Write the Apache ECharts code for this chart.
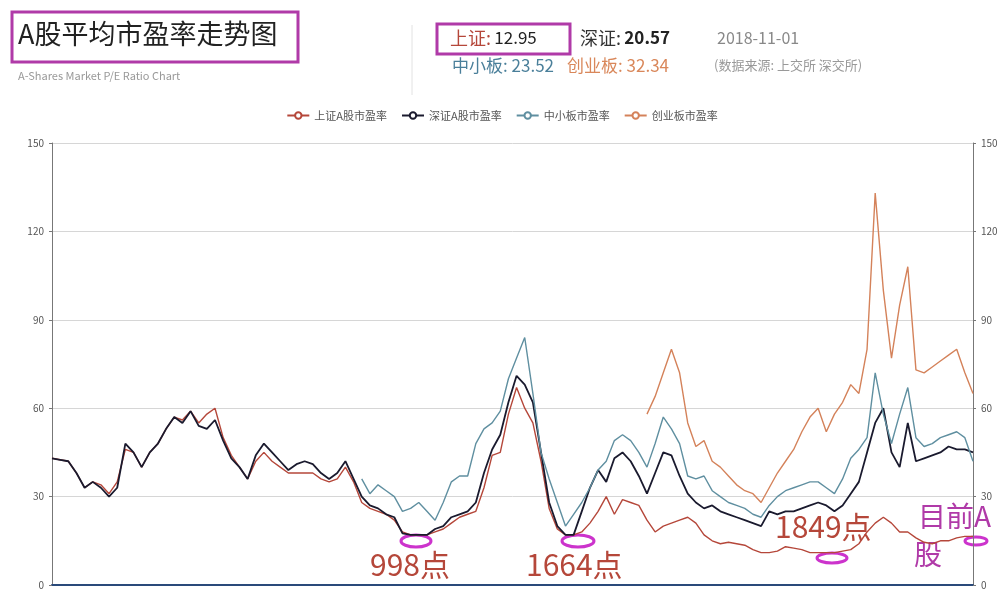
<!DOCTYPE html>
<html><head><meta charset="utf-8">
<script src="https://cdn.jsdelivr.net/npm/echarts@6/dist/echarts.min.js"></script>
<style>html,body{margin:0;padding:0;background:#fff}#c{width:1004px;height:590px}</style>
</head><body><div id="c"></div>
<script>
const seriesNames=['上证A股市盈率','深证A股市盈率','中小板市盈率','创业板市盈率'];
const yTicks=[0,30,60,90,120,150];
// bi-monthly points 2000-01 .. 2018-11
const categories=[];
for(let k=0;k<114;k++){const m=k*2;categories.push((2000+Math.floor(m/12))+'-'+String(m%12+1).padStart(2,'0'));}
const shanghai=[43,42.5,42,38,33,35,34,31,35,46,45,40,45,48,53,57,56,59,55,58,60,50,44,40,36,42,45,42,40,38,38,38,38,36,35,36,40,35,28,26,25,24,22,18,17,17,17,18,19,21,23,24,25,33,44,45,58,67,60,55,42,26,19,17,17,18,21,25,30,24,29,28,27,22,18,20,21,22,23,21,17,15,14,14.5,14,13.5,12,11,11,11.5,13,12.5,12,11,11,11,11,11.5,12,14,18,21,23,21,18,18,16,14.5,14,15,15,16,16.5,16.5];
const shenzhen=[43,42.5,42,38,33,35,33,30,33,48,45,40,45,48,53,57,55,59,54,53,56,49,43,40,36,44,48,45,42,39,41,42,41,38,36,38,42,36,30,27,26,24,23,17.5,17,17,17,19,20,23,24,25,28,38,46,51,62,71,68,62,45,28,20,17,17,25,33,39,35,43,45,42,37,31,38,45,44,37,31,28,26,27,25,24,23,22,21,20,25,24,25,25,26,27,28,27,25,27,31,35,45,55,60,45,40,55,42,43,44,45,47,46,46,45];
const zxb=[null,null,null,null,null,null,null,null,null,null,null,null,null,null,null,null,null,null,null,null,null,null,null,null,null,null,null,null,null,null,null,null,null,null,null,null,null,null,36,31,34,32,30,25,26,28,25,22,28,35,37,37,48,53,55,59,70,77,84,65,45,36,28,20,24,28,33,39,42,49,51,49,45,40,48,57,53,48,37,36,37,32,30,28,27,26,24,23,27,30,32,33,34,35,35,33,31,36,43,46,50,72,58,48,58,67,50,47,48,50,51,52,50,42];
const cyb=[null,null,null,null,null,null,null,null,null,null,null,null,null,null,null,null,null,null,null,null,null,null,null,null,null,null,null,null,null,null,null,null,null,null,null,null,null,null,null,null,null,null,null,null,null,null,null,null,null,null,null,null,null,null,null,null,null,null,null,null,null,null,null,null,null,null,null,null,null,null,null,null,null,58,64,72,80,72,55,47,49,42,40,37,34,32,31,28,33,38,42,46,52,57,60,52,58,62,68,65,80,133,100,77,95,108,73,72,74,76,78,80,72,65];
const colors=['#b5473a','#1a1a2e','#5f8fa0','#d4825a'];
const data=[shanghai,shenzhen,zxb,cyb];
const chart=echarts.init(document.getElementById('c'));
const ff='"Noto Sans CJK SC","Noto Sans",sans-serif';
const yAxisBase={type:'value',min:0,max:150,interval:30,
  axisLine:{show:true,lineStyle:{color:'#777'}},axisTick:{show:true,length:3,lineStyle:{color:'#777'}},
  axisLabel:{color:'#555',fontSize:10,fontFamily:ff},splitLine:{lineStyle:{color:'#d6d6d6'}}};
chart.setOption({
  animation:false,
  grid:{left:52,right:31,top:143,bottom:3},
  legend:{top:105,left:'center',itemWidth:22,itemHeight:8,itemGap:14,textStyle:{fontSize:11,color:'#555',fontFamily:ff},
    data:seriesNames},
  xAxis:{type:'category',data:categories,boundaryGap:false,axisLabel:{show:false},axisTick:{show:false},
    axisLine:{lineStyle:{color:'#2a4a7a',width:2}}},
  yAxis:[Object.assign({},yAxisBase,{position:'left'}),Object.assign({},yAxisBase,{position:'right',splitLine:{show:false}})],
  series:seriesNames.map((n,i)=>({name:n,type:'line',data:data[i],symbol:'emptyCircle',symbolSize:6,showSymbol:false,
    lineStyle:{color:colors[i],width:i==1?1.8:1.4},itemStyle:{color:colors[i]},connectNulls:false})),
  graphic:[
    {type:'rect',shape:{x:12,y:12,width:286,height:50},style:{fill:'none',stroke:'#b03aa8',lineWidth:3}},
    {type:'text',left:18,top:20,style:{text:'A股平均市盈率走势图',font:'27px '+ff,fill:'#222'}},
    {type:'text',left:18,top:70,style:{text:'A-Shares Market P/E Ratio Chart',font:'11px '+ff,fill:'#999'}},
    {type:'line',shape:{x1:412,y1:25,x2:412,y2:95},style:{stroke:'#e2e2e2',lineWidth:1}},
    {type:'rect',shape:{x:437,y:24,width:133,height:30},style:{fill:'none',stroke:'#b03aa8',lineWidth:3}},
    {type:'text',left:450,top:29,style:{rich:{a:{fontSize:18,fontFamily:ff,fill:'#b5473a'},b:{fontSize:17,fontFamily:ff,fill:'#222'}},text:'{a|上证:} {b|12.95}'}},
    {type:'text',left:580,top:29,style:{rich:{a:{fontSize:18,fontFamily:ff,fill:'#333'},b:{fontSize:17,fontFamily:ff,fill:'#222',fontWeight:'bold'}},text:'{a|深证:} {b|20.57}'}},
    {type:'text',left:717,top:30,style:{text:'2018-11-01',font:'16px '+ff,fill:'#888'}},
    {type:'text',left:452,top:57,style:{text:'中小板: 23.52',font:'17px '+ff,fill:'#4a7f9a'}},
    {type:'text',left:567,top:57,style:{text:'创业板: 32.34',font:'17px '+ff,fill:'#d9875a'}},
    {type:'text',left:714,top:59,style:{text:'(数据来源: 上交所 深交所)',font:'13px '+ff,fill:'#999'}},
    {type:'ellipse',shape:{cx:416,cy:541,rx:15,ry:6},style:{fill:'none',stroke:'#cc33cc',lineWidth:3}},
    {type:'ellipse',shape:{cx:578,cy:541,rx:16,ry:6},style:{fill:'none',stroke:'#cc33cc',lineWidth:3}},
    {type:'ellipse',shape:{cx:832,cy:558,rx:15,ry:5},style:{fill:'none',stroke:'#cc33cc',lineWidth:3}},
    {type:'ellipse',shape:{cx:976,cy:541,rx:11,ry:4},style:{fill:'none',stroke:'#cc33cc',lineWidth:3}},
    {type:'text',left:370,top:550,style:{text:'998点',font:'30px '+ff,fill:'#b5473a'}},
    {type:'text',left:526,top:550,style:{text:'1664点',font:'30px '+ff,fill:'#b5473a'}},
    {type:'text',left:775,top:512,style:{text:'1849点',font:'30px '+ff,fill:'#b5473a'}},
    {type:'text',left:918,top:502,style:{text:'目前A',font:'28px '+ff,fill:'#b03aa8'}},
    {type:'text',left:914,top:540,style:{text:'股',font:'28px '+ff,fill:'#b03aa8'}}
  ]
});
</script></body></html>
